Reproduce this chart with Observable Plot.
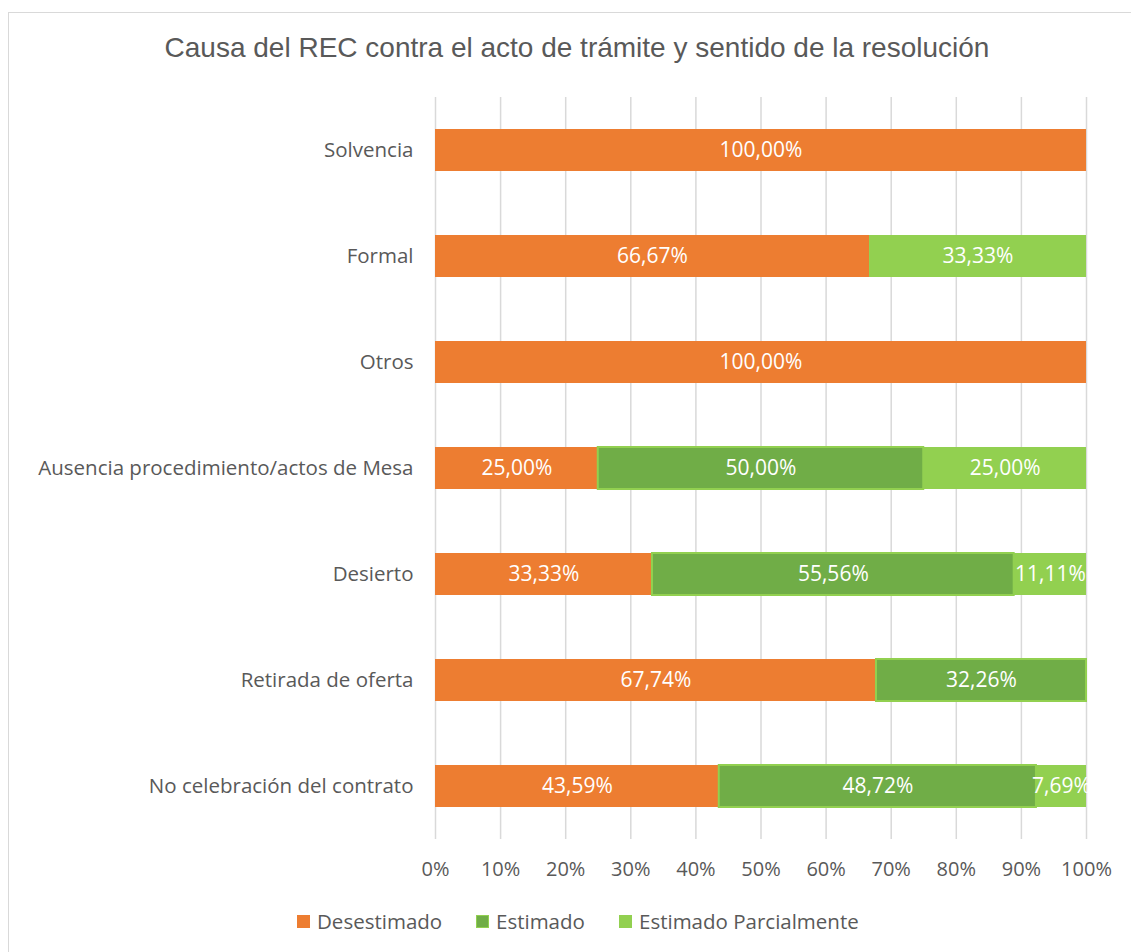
<!DOCTYPE html>
<html><head><meta charset="utf-8">
<script src="https://cdn.jsdelivr.net/npm/d3@7"></script>
<script src="https://cdn.jsdelivr.net/npm/@observablehq/plot@0.6"></script>
<style>
body{margin:0;background:#fff;font-family:"Open Sans",sans-serif;color:#595959;}
#frame{position:absolute;left:8px;top:12px;width:1140px;height:960px;border:1px solid #d9d9d9;box-sizing:border-box;}
#title{position:absolute;left:8px;width:1138px;top:32px;text-align:center;font-size:28px;font-family:"Liberation Sans Narrow","Liberation Sans",sans-serif;color:#595959;}
#chart{position:absolute;left:0;top:85px;}
#legend{position:absolute;top:907px;left:0;width:1131px;font-size:20.5px;}
.li{position:absolute;display:flex;align-items:center;gap:7px;}
.sw{width:13px;height:13px;display:inline-block;box-sizing:border-box;}
</style></head>
<body>
<div id="frame"></div>
<div id="title">Causa del REC contra el acto de trámite y sentido de la resolución</div>
<div id="chart"></div>
<div id="legend"></div>
<script>
const categories = ["Solvencia","Formal","Otros","Ausencia procedimiento/actos de Mesa","Desierto","Retirada de oferta","No celebración del contrato"];
const series = ["Desestimado","Estimado","Estimado Parcialmente"];
const desestimado = [100, 66.67, 100, 25, 33.33, 67.74, 43.59];
const estimado = [0, 0, 0, 50, 55.56, 32.26, 48.72];
const parcial = [0, 33.33, 0, 25, 11.11, 0, 7.69];
const xTicks = [0,10,20,30,40,50,60,70,80,90,100];
const colors = ["#ed7d31","#70ad47","#92d050"];

const vals = [desestimado, estimado, parcial];
const data = [];
series.forEach((s, si) => categories.forEach((c, ci) => {
  if (vals[si][ci] > 0) data.push({cat: c, series: s, value: vals[si][ci]});
}));
const fmt = v => v.toFixed(2).replace(".", ",") + "%";

const plot = Plot.plot({
  width: 1131, height: 800,
  marginLeft: 435, marginRight: 45, marginTop: 12, marginBottom: 46,
  style: {fontFamily: "'Open Sans', sans-serif", fontSize: "20px", color: "#595959", background: "transparent"},
  x: {domain: [0, 100], ticks: xTicks, tickFormat: d => d + "%", tickSize: 0, tickPadding: 22, label: null},
  y: {domain: categories, paddingInner: 0.6, paddingOuter: 0.3, tickSize: 0, tickPadding: 22, label: null},
  color: {domain: series, range: colors},
  marks: [
    Plot.gridX(xTicks, {stroke: "#d9d9d9", strokeOpacity: 1, strokeWidth: 1.5}),
    Plot.barX(data, Plot.stackX({x: "value", y: "cat", fill: "series", order: series,
      stroke: d => d.series === "Estimado" ? "#92d050" : "none", strokeWidth: 2, inset: 0})),
    Plot.text(data, Plot.stackX({x: "value", y: "cat", z: "series", order: series,
      text: d => fmt(d.value), fill: "white", fontSize: 21})),
    Plot.axisX({ticks: xTicks, tickFormat: d => d + "%", tickSize: 0, tickPadding: 22, fontSize: 20, fill: "#595959"}),
    Plot.axisY({tickSize: 0, tickPadding: 22, fontSize: 20.5, fill: "#595959"})
  ]
});
document.getElementById("chart").appendChild(plot);

const lg = document.getElementById("legend");
const lx = [297, 476, 619];
series.forEach((s, i) => {
  const d = document.createElement("div");
  d.className = "li";
  d.style.left = lx[i] + "px";
  const sw = document.createElement("span");
  sw.className = "sw";
  sw.style.background = colors[i];
  if (s === "Estimado") sw.style.border = "1.5px solid #92d050";
  d.appendChild(sw);
  const t = document.createElement("span");
  t.textContent = s;
  d.appendChild(t);
  lg.appendChild(d);
});
</script>
</body></html>
